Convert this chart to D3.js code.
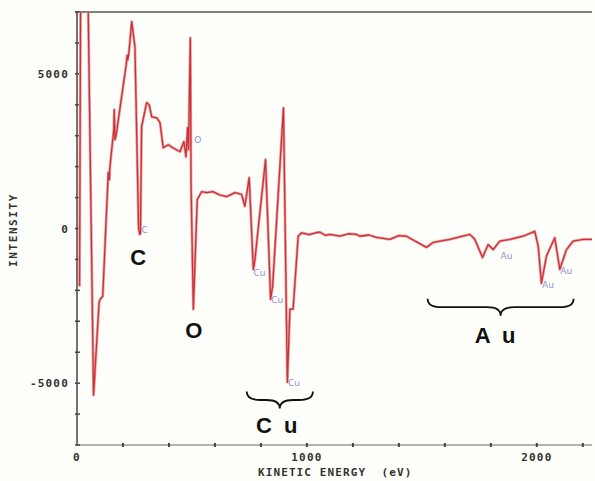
<!DOCTYPE html>
<html>
<head>
<meta charset="utf-8">
<script src="https://cdn.jsdelivr.net/npm/d3@7"></script>
<style>
  html, body { margin: 0; padding: 0; background: #fefefa; }
  svg { display: block; }
</style>
</head>
<body>
<div id="chart"></div>
<script>
// Auger spectrum (kinetic energy in eV, intensity)
const energy = [11, 16, 47, 72, 96, 100, 112, 136, 141, 143, 160, 162, 165, 170, 214, 218, 221, 226, 238, 252,
    268, 273, 276, 281, 303, 314, 325, 347, 361, 375, 397, 417, 448, 465, 474, 481, 485, 493, 496, 506,
    523, 542, 564, 591, 620, 651, 687, 716, 730, 749, 767, 774, 820, 842, 851, 898, 915, 926, 940, 962,
    977, 1010, 1042, 1057, 1080, 1100, 1143, 1180, 1216, 1230, 1270, 1303, 1361, 1400, 1433, 1520, 1549, 1622, 1660, 1709,
    1730, 1764, 1788, 1810, 1839, 1883, 1940, 1991, 2006, 2020, 2042, 2078, 2100, 2129, 2158, 2201, 2252];
const intensity = [-1870, 8000, 8000, -5390, -2400, -2300, -2190, 1810, 1580, 1970, 3200, 3840, 2870, 3000, 5300, 5600, 5450, 5700, 6690, 5870,
    0, -190, -150, 3290, 4070, 4000, 3610, 3580, 3420, 2610, 2710, 2610, 2480, 2810, 2320, 3260, 2550, 6160, 1480, -2610,
    935, 1190, 1160, 1190, 1090, 1030, 1160, 1100, 720, 1640, -1320, -1000, 2230, -2290, -1860, 3900, -4970, -2610, -2610, -250,
    -140, -200, -130, -120, -220, -190, -250, -170, -190, -250, -210, -290, -350, -230, -250, -610, -450, -350, -280, -190,
    -350, -940, -520, -680, -410, -350, -250, -90, -570, -1770, -890, -300, -1320, -680, -410, -350, -350];

const xTicks = [0, 1000, 2000];
const yTicks = [-5000, 0, 5000];

// small element marks next to the peaks
const markText = ['C', 'O', 'Cu', 'Cu', 'Cu', 'Au', 'Au', 'Au'];
const markE = [280, 510, 768, 845, 918, 1842, 2023, 2102];
const markI = [-30, 2900, -1400, -2280, -4950, -870, -1780, -1340];

// big element names and their braces
const elemText = ['C', 'O', 'C u', 'A u'];
const elemE = [273, 515, 875, 1825];
const elemI = [-1180, -3540, -6610, -3700];
const braceFrom = [738, 1525];
const braceTo = [1026, 2160];
const braceI = [-5270, -2270];

const W = 595, H = 481;
const margin = { top: 12, right: 3, bottom: 36, left: 77 };
const width = W - margin.left - margin.right;
const height = H - margin.top - margin.bottom;

const svg = d3.select('#chart').append('svg')
    .attr('width', W).attr('height', H);

const g = svg.append('g')
    .attr('transform', `translate(${margin.left},${margin.top})`);

const x = d3.scaleLinear().domain([0, 2240]).range([0, width]);
const y = d3.scaleLinear().domain([-7000, 7000]).range([height, 0]);

const axisColor = '#444';
const mono = '"DejaVu Sans Mono", monospace';

// frame: left, bottom and top line
g.append('line').attr('x1', 0).attr('x2', 0).attr('y1', 0).attr('y2', height)
    .attr('stroke', axisColor).attr('stroke-width', 1.5);
g.append('line').attr('x1', 0).attr('x2', width).attr('y1', height).attr('y2', height)
    .attr('stroke', '#666').attr('stroke-width', 1.2);
g.append('line').attr('x1', -2).attr('x2', width).attr('y1', 0).attr('y2', 0)
    .attr('stroke', '#555').attr('stroke-width', 1.5);

// minor ticks
g.selectAll('.ytick').data(d3.range(-7000, 7001, 1000)).join('line')
    .attr('x1', -2).attr('x2', 3)
    .attr('y1', d => y(d)).attr('y2', d => y(d))
    .attr('stroke', axisColor).attr('stroke-width', 1.5);
g.selectAll('.xtick').data(d3.range(200, 2201, 200)).join('line')
    .attr('x1', d => x(d)).attr('x2', d => x(d))
    .attr('y1', height - 2).attr('y2', height + 2)
    .attr('stroke', axisColor).attr('stroke-width', 2);

// tick labels
g.selectAll('.ylab').data(yTicks).join('text')
    .attr('x', -8).attr('y', d => y(d) + 4)
    .attr('text-anchor', 'end')
    .attr('font-family', mono).attr('font-weight', 'bold')
    .attr('font-size', 11).attr('letter-spacing', 1.2)
    .attr('fill', '#333')
    .text(d => d);
g.selectAll('.xlab').data(xTicks).join('text')
    .attr('x', d => x(d)).attr('y', height + 16)
    .attr('text-anchor', 'middle')
    .attr('font-family', mono).attr('font-weight', 'bold')
    .attr('font-size', 11).attr('letter-spacing', 1.2)
    .attr('fill', '#333')
    .text(d => d);

// axis titles
svg.append('text')
    .attr('x', 258).attr('y', 476)
    .attr('font-family', mono).attr('font-weight', 'bold')
    .attr('font-size', 11).attr('letter-spacing', 1.1)
    .attr('fill', '#333').attr('xml:space', 'preserve')
    .text('KINETIC ENERGY  (eV)');
svg.append('text')
    .attr('transform', 'translate(17,230) rotate(-90)')
    .attr('text-anchor', 'middle')
    .attr('font-family', mono).attr('font-weight', 'bold')
    .attr('font-size', 11).attr('letter-spacing', 1.6)
    .attr('fill', '#333')
    .text('INTENSITY');

// spectrum
g.append('clipPath').attr('id', 'plot-clip')
    .append('rect').attr('x', 0).attr('y', 0).attr('width', width).attr('height', height);

const line = d3.line()
    .x((d, i) => x(energy[i]))
    .y(d => y(d));

g.append('path')
    .datum(intensity)
    .attr('clip-path', 'url(#plot-clip)')
    .attr('fill', 'none')
    .attr('stroke', '#f0a0a0')
    .attr('stroke-width', 2.8)
    .attr('stroke-linejoin', 'round')
    .attr('d', line);
g.append('path')
    .datum(intensity)
    .attr('clip-path', 'url(#plot-clip)')
    .attr('fill', 'none')
    .attr('stroke', '#c8323a')
    .attr('stroke-width', 1.3)
    .attr('stroke-linejoin', 'round')
    .attr('d', line);

// small blue peak marks
g.selectAll('.mark').data(markText).join('text')
    .attr('x', (d, i) => x(markE[i]))
    .attr('y', (d, i) => y(markI[i]) + 4)
    .attr('font-family', '"DejaVu Sans", sans-serif')
    .attr('font-size', 9)
    .attr('fill', '#8c92d8')
    .text(d => d);

// big element names
g.selectAll('.elem').data(elemText).join('text')
    .attr('x', (d, i) => x(elemE[i]))
    .attr('y', (d, i) => y(elemI[i]))
    .attr('text-anchor', 'middle')
    .attr('font-family', '"Liberation Sans", Arial, sans-serif')
    .attr('font-weight', 'bold')
    .attr('font-size', 22)
    .attr('letter-spacing', 3)
    .attr('fill', '#111')
    .attr('xml:space', 'preserve')
    .text(d => d);

// curly braces under Cu and Au
function bracePath(x0, x1, y0, depth) {
    const xm = (x0 + x1) / 2, q = depth / 2, r = q * 1.6;
    return `M${x0},${y0} Q${x0},${y0 + q} ${x0 + r},${y0 + q}` +
        ` L${xm - r},${y0 + q} Q${xm},${y0 + q} ${xm},${y0 + depth}` +
        ` Q${xm},${y0 + q} ${xm + r},${y0 + q}` +
        ` L${x1 - r},${y0 + q} Q${x1},${y0 + q} ${x1},${y0}`;
}
g.selectAll('.brace').data(braceFrom).join('path')
    .attr('d', (d, i) => bracePath(x(d), x(braceTo[i]), y(braceI[i]), 17))
    .attr('fill', 'none')
    .attr('stroke', '#111')
    .attr('stroke-width', 1.8);
</script>
</body>
</html>
